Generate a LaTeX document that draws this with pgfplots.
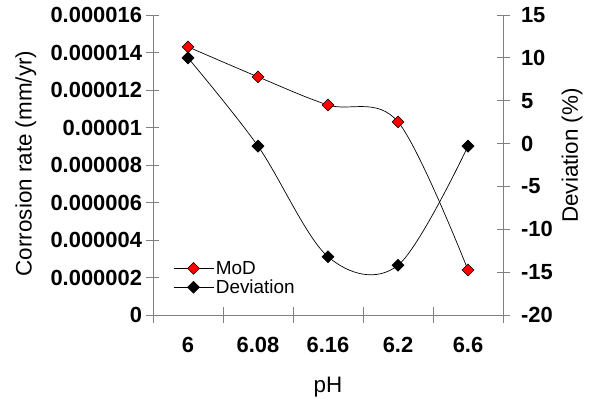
\documentclass[border=0pt]{standalone}
\usepackage{fontspec}
\setmainfont{Liberation Sans}
\usepackage{pgfplots}
\pgfplotsset{compat=1.18}
\definecolor{axgray}{RGB}{128,128,128}
\definecolor{modred}{RGB}{255,0,0}
\begin{document}
\begin{tikzpicture}[font=\fontsize{19}{22}\selectfont]
\useasboundingbox (-153bp,-87bp) rectangle (438bp,315bp);
\pgfplotsset{
  common/.style={
    scale only axis, width=350bp, height=300bp,
    at={(0,0)}, anchor=south west,
    xmin=-0.5, xmax=4.5,
    tick align=center,
    scaled y ticks=false,
    axis line style={draw=axgray, line width=0.8pt},
    every tick/.style={draw=axgray, line width=0.8pt},
    major tick length=13bp, minor tick length=16bp,
    tick label style={font=\bfseries\fontsize{22}{26}\selectfont},
    label style={font=\fontsize{22.5}{26}\selectfont},
  },
  /pgfplots/legend image code/.code={%
    \draw[mark repeat=2,mark phase=2] plot coordinates {(0bp,0bp) (20bp,0bp) (40bp,0bp)};},
}
\begin{axis}[common,
  axis x line*=bottom, axis y line*=left,
  xtick={0,1,2,3,4},
  xticklabels={6,6.08,6.16,6.2,6.6},
  xticklabel style={yshift=-12bp},
  major x tick style={draw=none},
  minor xtick={-0.5,0.5,1.5,2.5,3.5,4.5},
  ymin=0, ymax=0.000016,
  ytick={0,0.000002,0.000004,0.000006,0.000008,0.00001,0.000012,0.000014,0.000016},
  yticklabels={0,0.000002,0.000004,0.000006,0.000008,0.00001,0.000012,0.000014,0.000016},
  yticklabel style={xshift=-1bp},
  xlabel={pH},
  ylabel={Corrosion rate (mm/yr)},
  xlabel style={at={(axis description cs:0.5,-0.24)}, anchor=center},
  ylabel style={at={(axis description cs:-0.363,0.505)}, anchor=center},
]
\addplot[black, line width=0.7pt, smooth, tension=0.55,
  mark=square*, mark size=4.2bp, mark options={rotate=45, fill=modred, draw=black, line width=0.5pt}]
  coordinates {(0,0.0000143) (1,0.0000127) (2,0.0000112) (3,0.0000103) (4,0.0000024)};
\end{axis}
\begin{axis}[common,
  axis x line=none, axis y line*=right,
  ymin=-20, ymax=15,
  ytick={-20,-15,-10,-5,0,5,10,15},
  yticklabels={-20,-15,-10,-5,0,5,10,15},
  yticklabel style={anchor=west, xshift=8bp},
  ylabel={Deviation (\%)},
  ylabel style={at={(axis description cs:1.197,0.532)}, anchor=center},
  legend style={draw=none, fill=none, at={(0.057,0.06)}, anchor=south west,
    font=\fontsize{19}{22}\selectfont, row sep=0bp, inner sep=0pt,
    legend cell align=left},
]
\addlegendimage{black, line width=0.7pt, mark=square*, mark size=4.2bp, mark options={rotate=45, fill=modred, draw=black, line width=0.5pt}}
\addlegendentry{MoD}
\addplot[black, line width=0.7pt, smooth, tension=0.55,
  mark=square*, mark size=4.2bp, mark options={rotate=45, fill=black, draw=black}]
  coordinates {(0,10) (1,-0.3) (2,-13.2) (3,-14.2) (4,-0.3)};
\addlegendentry{Deviation}
\end{axis}
\end{tikzpicture}
\end{document}
